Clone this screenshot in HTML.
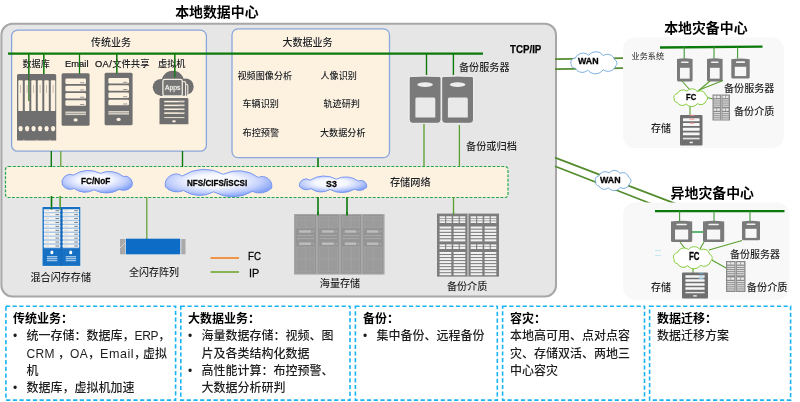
<!DOCTYPE html>
<html lang="zh-CN">
<head>
<meta charset="utf-8">
<title>数据中心存储解决方案架构</title>
<style>
html,body{margin:0;padding:0;background:#fff;overflow:hidden;}
#stage{will-change:transform;position:relative;width:800px;height:402px;overflow:hidden;background:#fff;
font-family:"Liberation Sans","Noto Sans CJK SC",sans-serif;color:#262626;}
#stage svg{position:absolute;left:0;top:0;}
.t{font-weight:500;text-shadow:0 0 1.2px rgba(255,255,255,0.85);position:absolute;white-space:nowrap;line-height:1;margin:0;padding:0;}
.bx{font-weight:500;white-space:nowrap;position:absolute;top:311.1px;font-size:12px;line-height:17.3px;color:#1e1e1e;}
.bx .bt{font-weight:bold;color:#000;}
.bx ul{list-style:none;margin:0;padding:0;}
.bx li{position:relative;padding-left:13.5px;margin:0;}
.bx li:before{content:"•";position:absolute;left:0;top:0;font-size:12px;}
.bx p{margin:0;padding:0;}
.bx .l{letter-spacing:0.3px;}
.bx .l2{font-size:12.6px;letter-spacing:0.5px;}
</style>
</head>
<body>
<div id="stage">
<svg width="800" height="402" viewBox="0 0 800 402">
<rect x="1.4" y="23.8" width="554.6" height="272.6" rx="11" fill="#e6e6e6" stroke="#a8a6a6" stroke-width="2"/>
<rect x="11.6" y="30.1" width="194.8" height="121.1" rx="6" fill="#fdf2e0" stroke="#8aa6dc" stroke-width="1.3"/>
<rect x="232" y="28.9" width="157.5" height="128.7" rx="6" fill="#fdf2e0" stroke="#8aa6dc" stroke-width="1.3"/>
<rect x="5.5" y="166.5" width="502.5" height="31" rx="3" fill="#fdf2e0" stroke="#21a74c" stroke-width="1.2" stroke-dasharray="2.9 1.5"/>
<line x1="555" y1="157.6" x2="680" y2="205.4" stroke="#548c2e" stroke-width="1.7" />
<line x1="555" y1="166.3" x2="655" y2="205.3" stroke="#548c2e" stroke-width="1.7" />
<rect x="623" y="37.6" width="161" height="110.3" rx="12" fill="#f8f8f8"/>
<rect x="623.2" y="202.6" width="166.2" height="97.2" rx="12" fill="#f8f8f8"/>
<line x1="8" y1="53.6" x2="483" y2="53.6" stroke="#0b7a0b" stroke-width="2.4" />
<line x1="28.8" y1="54" x2="28.8" y2="75" stroke="#0b7a0b" stroke-width="1.2" />
<line x1="43.8" y1="54" x2="43.8" y2="75" stroke="#0b7a0b" stroke-width="1.2" />
<line x1="79.5" y1="54" x2="79.5" y2="74" stroke="#0b7a0b" stroke-width="1.2" />
<line x1="116.8" y1="54" x2="116.8" y2="74" stroke="#0b7a0b" stroke-width="1.2" />
<line x1="426.5" y1="54" x2="426.5" y2="75" stroke="#0b7a0b" stroke-width="1.4" />
<line x1="453.4" y1="54" x2="453.4" y2="75" stroke="#0b7a0b" stroke-width="1.4" />
<line x1="51.3" y1="151" x2="51.3" y2="167" stroke="#0b7a0b" stroke-width="1.4" />
<line x1="60.8" y1="151" x2="60.8" y2="167" stroke="#5a9e2f" stroke-width="1.2" />
<line x1="182.5" y1="151" x2="182.5" y2="167" stroke="#0b7a0b" stroke-width="1.4" />
<line x1="318" y1="158" x2="318" y2="167" stroke="#0b7a0b" stroke-width="1.6" />
<line x1="424" y1="124" x2="424" y2="166.5" stroke="#5a9e2f" stroke-width="1.3" />
<line x1="459.4" y1="125" x2="459.4" y2="166.5" stroke="#5a9e2f" stroke-width="1.3" />
<line x1="51.5" y1="196" x2="51.5" y2="208" stroke="#0b7a0b" stroke-width="1.4" />
<line x1="60.2" y1="196" x2="60.2" y2="208" stroke="#5a9e2f" stroke-width="1.2" />
<line x1="146.8" y1="197" x2="146.8" y2="239" stroke="#5a9e2f" stroke-width="1.2" />
<line x1="318" y1="197" x2="318" y2="215.2" stroke="#0b7a0b" stroke-width="1.6" />
<line x1="347" y1="197" x2="347" y2="215.2" stroke="#0b7a0b" stroke-width="1.6" />
<line x1="453.5" y1="197" x2="453.5" y2="214" stroke="#5a9e2f" stroke-width="1.3" />
<line x1="210.5" y1="258" x2="239" y2="258" stroke="#f5862a" stroke-width="1.7" />
<line x1="210.5" y1="272" x2="239" y2="272" stroke="#77aa38" stroke-width="1.7" />
<line x1="555" y1="59.2" x2="623" y2="58.1" stroke="#548c2e" stroke-width="1.8" />
<line x1="555" y1="69.2" x2="623" y2="68.1" stroke="#548c2e" stroke-width="1.8" />
<g transform="translate(17,74)">
<path d="M1.5 0 H37.7 Q39.2 0 39.2 1.5 V66.5 H0 V1.5 Q0 0 1.5 0 Z" fill="#6f6f6f"/>
<rect x="1.3" y="6.3" width="4.5" height="30.8" rx="0.9" fill="#fdf2e0"/>
<rect x="3.2" y="11" width="0.8" height="8" fill="#b9b2a5"/>
<ellipse cx="3.6" cy="54.6" rx="2.1" ry="2.7" fill="#fdf2e0"/>
<rect x="7.8" y="6.3" width="4.5" height="30.8" rx="0.9" fill="#fdf2e0"/>
<rect x="9.7" y="11" width="0.8" height="8" fill="#b9b2a5"/>
<rect x="6.4" y="65.7" width="0.9" height="0.9" fill="#fdf2e0"/>
<ellipse cx="10.1" cy="54.6" rx="2.1" ry="2.7" fill="#fdf2e0"/>
<rect x="14.3" y="6.3" width="4.5" height="30.8" rx="0.9" fill="#fdf2e0"/>
<rect x="16.2" y="11" width="0.8" height="8" fill="#b9b2a5"/>
<ellipse cx="16.6" cy="54.6" rx="2.1" ry="2.7" fill="#fdf2e0"/>
<rect x="20.8" y="6.3" width="4.5" height="30.8" rx="0.9" fill="#fdf2e0"/>
<rect x="22.7" y="11" width="0.8" height="8" fill="#b9b2a5"/>
<rect x="19.4" y="65.7" width="0.9" height="0.9" fill="#fdf2e0"/>
<ellipse cx="23.1" cy="54.6" rx="2.1" ry="2.7" fill="#fdf2e0"/>
<rect x="27.3" y="6.3" width="4.5" height="30.8" rx="0.9" fill="#fdf2e0"/>
<rect x="29.2" y="11" width="0.8" height="8" fill="#b9b2a5"/>
<ellipse cx="29.6" cy="54.6" rx="2.1" ry="2.7" fill="#fdf2e0"/>
<rect x="33.8" y="6.3" width="4.5" height="30.8" rx="0.9" fill="#fdf2e0"/>
<rect x="35.7" y="11" width="0.8" height="8" fill="#b9b2a5"/>
<rect x="32.4" y="65.7" width="0.9" height="0.9" fill="#fdf2e0"/>
<ellipse cx="36.1" cy="54.6" rx="2.1" ry="2.7" fill="#fdf2e0"/>
</g>
<line x1="28.8" y1="74" x2="28.8" y2="101" stroke="#1d6b1d" stroke-width="1.0" />
<g transform="translate(61.6,73.3)">
<rect x="0" y="0" width="28" height="52.5" rx="1.5" fill="#6f6f6f"/>
<rect x="3.8" y="5.2" width="20.6" height="5.5" rx="1.3" fill="#fdf2e0"/>
<rect x="18.5" y="9.0" width="4.2" height="0.9" fill="#8a8a8a"/>
<rect x="3.8" y="12.45" width="20.6" height="5.5" rx="1.3" fill="#fdf2e0"/>
<rect x="18.5" y="16.25" width="4.2" height="0.9" fill="#8a8a8a"/>
<rect x="3.8" y="19.7" width="20.6" height="5.5" rx="1.3" fill="#fdf2e0"/>
<rect x="18.5" y="23.5" width="4.2" height="0.9" fill="#8a8a8a"/>
<rect x="3.8" y="26.95" width="20.6" height="5.5" rx="1.3" fill="#fdf2e0"/>
<rect x="18.5" y="30.75" width="4.2" height="0.9" fill="#8a8a8a"/>
<rect x="3.8" y="38.2" width="20.6" height="3.6" fill="#d6d0c6"/>
<rect x="3.8" y="39.7" width="20.6" height="0.6" fill="#8d8a85"/>
<ellipse cx="14.0" cy="46.6" rx="2.1" ry="1.7" fill="#fdf2e0"/>
</g>
<g transform="translate(104.6,72.8)">
<rect x="0" y="0" width="28" height="52.5" rx="1.5" fill="#6f6f6f"/>
<rect x="3.8" y="5.2" width="20.6" height="5.5" rx="1.3" fill="#fdf2e0"/>
<rect x="18.5" y="9.0" width="4.2" height="0.9" fill="#8a8a8a"/>
<rect x="3.8" y="12.45" width="20.6" height="5.5" rx="1.3" fill="#fdf2e0"/>
<rect x="18.5" y="16.25" width="4.2" height="0.9" fill="#8a8a8a"/>
<rect x="3.8" y="19.7" width="20.6" height="5.5" rx="1.3" fill="#fdf2e0"/>
<rect x="18.5" y="23.5" width="4.2" height="0.9" fill="#8a8a8a"/>
<rect x="3.8" y="26.95" width="20.6" height="5.5" rx="1.3" fill="#fdf2e0"/>
<rect x="18.5" y="30.75" width="4.2" height="0.9" fill="#8a8a8a"/>
<rect x="3.8" y="38.2" width="20.6" height="3.6" fill="#d6d0c6"/>
<rect x="3.8" y="39.7" width="20.6" height="0.6" fill="#8d8a85"/>
<ellipse cx="14.0" cy="46.6" rx="2.1" ry="1.7" fill="#fdf2e0"/>
</g>
<g transform="translate(409.2,76)">
<path d="M0 2 Q0 0.6 1.6 0.5 Q15.9 -0.3 30.2 0.5 Q31.8 0.6 31.8 2 V43.8 Q31.8 47.3 28.3 47.3 H3.5 Q0 47.3 0 43.8 Z" fill="#7a7a7a" stroke="#f6f6f6" stroke-width="0.9"/>
<ellipse cx="15.9" cy="8.6" rx="7.8" ry="2.3" fill="#ededed"/>
<path d="M6.2 23 Q6.2 21.5 7.7 21.5 H24.6 Q26.1 21.5 26.1 23 V41.5 H6.2 Z" fill="#e9e9e9"/>
</g>
<g transform="translate(441.7,76)">
<path d="M0 2 Q0 0.6 1.6 0.5 Q15.9 -0.3 30.2 0.5 Q31.8 0.6 31.8 2 V43.8 Q31.8 47.3 28.3 47.3 H3.5 Q0 47.3 0 43.8 Z" fill="#7a7a7a" stroke="#f6f6f6" stroke-width="0.9"/>
<ellipse cx="15.9" cy="8.6" rx="7.8" ry="2.3" fill="#ededed"/>
<path d="M6.2 23 Q6.2 21.5 7.7 21.5 H24.6 Q26.1 21.5 26.1 23 V41.5 H6.2 Z" fill="#e9e9e9"/>
</g>
<g fill="#6f6f6f">
<ellipse cx="161.3" cy="87.3" rx="8.6" ry="8.4"/>
<ellipse cx="172.8" cy="81.4" rx="11.2" ry="10.6"/>
<ellipse cx="185.6" cy="86.6" rx="8.1" ry="8.2"/>
<rect x="160" y="86" width="27" height="9.7"/>
<path d="M159.5 99.4 Q159.5 98 160.9 98 H187 Q188.4 98 188.4 99.4 V124.2 H159.5 Z"/>
</g>
<g fill="none" stroke="#f1ebe1" stroke-width="1.1">
<path d="M183.2 81.6 H184.4 Q185.6 81.6 185.6 82.8 V97.4"/>
<path d="M186 84.2 H186.6 Q187.8 84.2 187.8 85.4 V97.4"/>
<rect x="162.9" y="79.4" width="19.4" height="16.6" rx="1.8" fill="#757575" stroke-width="1.3"/>
</g>
<rect x="164.2" y="100.80" width="20.2" height="1.5" fill="#fdf2e0"/>
<rect x="178.5" y="100.60" width="5.9" height="0.9" fill="#b5b0a8"/>
<rect x="164.2" y="104.65" width="20.2" height="1.5" fill="#fdf2e0"/>
<rect x="178.5" y="104.45" width="5.9" height="0.9" fill="#b5b0a8"/>
<rect x="164.2" y="108.50" width="20.2" height="1.5" fill="#fdf2e0"/>
<rect x="178.5" y="108.30" width="5.9" height="0.9" fill="#b5b0a8"/>
<rect x="164.2" y="112.35" width="20.2" height="1.5" fill="#fdf2e0"/>
<rect x="178.5" y="112.15" width="5.9" height="0.9" fill="#b5b0a8"/>
<rect x="164.2" y="117" width="20.2" height="1.1" fill="#fdf2e0" opacity="0.8"/>
<ellipse cx="174" cy="121.3" rx="1.9" ry="1.1" fill="#fdf2e0"/>
<line x1="174.8" y1="54" x2="174.8" y2="77.6" stroke="#0b7a0b" stroke-width="1.2" />
<g transform="translate(42.5,207)">
<rect x="-0.4" y="-0.4" width="38.6" height="59.7" fill="#f3f3f3"/>
<rect x="0" y="0" width="37.8" height="58.9" fill="#1670c4"/>
<rect x="1.4" y="2.2" width="16.4" height="39" fill="#a9c9e8"/>
<rect x="1.4" y="2.40" width="16.4" height="2.5" rx="0.6" fill="#f8f4ef"/>
<rect x="13.0" y="3.20" width="3.6" height="1" fill="#6f7f8f"/>
<rect x="3.0" y="3.30" width="3.4" height="0.7" fill="#d8cfc4"/>
<rect x="1.4" y="6.32" width="16.4" height="2.5" rx="0.6" fill="#f8f4ef"/>
<rect x="13.0" y="7.12" width="3.6" height="1" fill="#6f7f8f"/>
<rect x="3.0" y="7.22" width="3.4" height="0.7" fill="#d8cfc4"/>
<rect x="1.4" y="10.24" width="16.4" height="2.5" rx="0.6" fill="#f8f4ef"/>
<rect x="13.0" y="11.04" width="3.6" height="1" fill="#6f7f8f"/>
<rect x="3.0" y="11.14" width="3.4" height="0.7" fill="#d8cfc4"/>
<rect x="1.4" y="14.16" width="16.4" height="2.5" rx="0.6" fill="#f8f4ef"/>
<rect x="13.0" y="14.96" width="3.6" height="1" fill="#6f7f8f"/>
<rect x="3.0" y="15.06" width="3.4" height="0.7" fill="#d8cfc4"/>
<rect x="1.4" y="18.08" width="16.4" height="2.5" rx="0.6" fill="#f8f4ef"/>
<rect x="13.0" y="18.88" width="3.6" height="1" fill="#6f7f8f"/>
<rect x="3.0" y="18.98" width="3.4" height="0.7" fill="#d8cfc4"/>
<rect x="1.4" y="22.00" width="16.4" height="2.5" rx="0.6" fill="#f8f4ef"/>
<rect x="13.0" y="22.80" width="3.6" height="1" fill="#6f7f8f"/>
<rect x="3.0" y="22.90" width="3.4" height="0.7" fill="#d8cfc4"/>
<rect x="1.4" y="25.92" width="16.4" height="2.5" rx="0.6" fill="#f8f4ef"/>
<rect x="13.0" y="26.72" width="3.6" height="1" fill="#6f7f8f"/>
<rect x="3.0" y="26.82" width="3.4" height="0.7" fill="#d8cfc4"/>
<rect x="1.4" y="29.84" width="16.4" height="2.5" rx="0.6" fill="#f8f4ef"/>
<rect x="13.0" y="30.64" width="3.6" height="1" fill="#6f7f8f"/>
<rect x="3.0" y="30.74" width="3.4" height="0.7" fill="#d8cfc4"/>
<rect x="1.4" y="33.76" width="16.4" height="2.5" rx="0.6" fill="#f8f4ef"/>
<rect x="13.0" y="34.56" width="3.6" height="1" fill="#6f7f8f"/>
<rect x="3.0" y="34.66" width="3.4" height="0.7" fill="#d8cfc4"/>
<rect x="1.4" y="37.68" width="16.4" height="2.5" rx="0.6" fill="#f8f4ef"/>
<rect x="13.0" y="38.48" width="3.6" height="1" fill="#6f7f8f"/>
<rect x="3.0" y="38.58" width="3.4" height="0.7" fill="#d8cfc4"/>
<ellipse cx="9.4" cy="45.4" rx="1.5" ry="1.9" fill="#fff"/>
<rect x="4.4" y="49.00" width="10.4" height="1.35" fill="#9fc5e8"/>
<rect x="4.4" y="50.95" width="10.4" height="1.35" fill="#9fc5e8"/>
<rect x="4.4" y="52.90" width="10.4" height="1.35" fill="#9fc5e8"/>
<rect x="20.2" y="2.2" width="16.4" height="39" fill="#a9c9e8"/>
<rect x="20.2" y="2.40" width="16.4" height="2.5" rx="0.6" fill="#f8f4ef"/>
<rect x="31.799999999999997" y="3.20" width="3.6" height="1" fill="#6f7f8f"/>
<rect x="21.8" y="3.30" width="3.4" height="0.7" fill="#d8cfc4"/>
<rect x="20.2" y="6.32" width="16.4" height="2.5" rx="0.6" fill="#f8f4ef"/>
<rect x="31.799999999999997" y="7.12" width="3.6" height="1" fill="#6f7f8f"/>
<rect x="21.8" y="7.22" width="3.4" height="0.7" fill="#d8cfc4"/>
<rect x="20.2" y="10.24" width="16.4" height="2.5" rx="0.6" fill="#f8f4ef"/>
<rect x="31.799999999999997" y="11.04" width="3.6" height="1" fill="#6f7f8f"/>
<rect x="21.8" y="11.14" width="3.4" height="0.7" fill="#d8cfc4"/>
<rect x="20.2" y="14.16" width="16.4" height="2.5" rx="0.6" fill="#f8f4ef"/>
<rect x="31.799999999999997" y="14.96" width="3.6" height="1" fill="#6f7f8f"/>
<rect x="21.8" y="15.06" width="3.4" height="0.7" fill="#d8cfc4"/>
<rect x="20.2" y="18.08" width="16.4" height="2.5" rx="0.6" fill="#f8f4ef"/>
<rect x="31.799999999999997" y="18.88" width="3.6" height="1" fill="#6f7f8f"/>
<rect x="21.8" y="18.98" width="3.4" height="0.7" fill="#d8cfc4"/>
<rect x="20.2" y="22.00" width="16.4" height="2.5" rx="0.6" fill="#f8f4ef"/>
<rect x="31.799999999999997" y="22.80" width="3.6" height="1" fill="#6f7f8f"/>
<rect x="21.8" y="22.90" width="3.4" height="0.7" fill="#d8cfc4"/>
<rect x="20.2" y="25.92" width="16.4" height="2.5" rx="0.6" fill="#f8f4ef"/>
<rect x="31.799999999999997" y="26.72" width="3.6" height="1" fill="#6f7f8f"/>
<rect x="21.8" y="26.82" width="3.4" height="0.7" fill="#d8cfc4"/>
<rect x="20.2" y="29.84" width="16.4" height="2.5" rx="0.6" fill="#f8f4ef"/>
<rect x="31.799999999999997" y="30.64" width="3.6" height="1" fill="#6f7f8f"/>
<rect x="21.8" y="30.74" width="3.4" height="0.7" fill="#d8cfc4"/>
<rect x="20.2" y="33.76" width="16.4" height="2.5" rx="0.6" fill="#f8f4ef"/>
<rect x="31.799999999999997" y="34.56" width="3.6" height="1" fill="#6f7f8f"/>
<rect x="21.8" y="34.66" width="3.4" height="0.7" fill="#d8cfc4"/>
<rect x="20.2" y="37.68" width="16.4" height="2.5" rx="0.6" fill="#f8f4ef"/>
<rect x="31.799999999999997" y="38.48" width="3.6" height="1" fill="#6f7f8f"/>
<rect x="21.8" y="38.58" width="3.4" height="0.7" fill="#d8cfc4"/>
<ellipse cx="28.2" cy="45.4" rx="1.5" ry="1.9" fill="#fff"/>
<rect x="23.2" y="49.00" width="10.4" height="1.35" fill="#9fc5e8"/>
<rect x="23.2" y="50.95" width="10.4" height="1.35" fill="#9fc5e8"/>
<rect x="23.2" y="52.90" width="10.4" height="1.35" fill="#9fc5e8"/>
<rect x="18.3" y="0" width="1.1" height="58.9" fill="#1467b8"/>
</g>
<line x1="51.5" y1="196" x2="51.5" y2="209.5" stroke="#0b7a0b" stroke-width="1.3" />
<line x1="60.2" y1="196" x2="60.2" y2="209.5" stroke="#5a9e2f" stroke-width="1.2" />
<rect x="120" y="239" width="5" height="15.3" fill="#a9a9a9"/>
<path d="M120 248 L125 243" stroke="#e0e0e0" stroke-width="0.8"/>
<rect x="181.3" y="239" width="4.2" height="15.3" fill="#a9a9a9"/>
<rect x="125.8" y="238.7" width="54.4" height="15.6" fill="#0d6cc5"/>
<g transform="translate(294,214)">
<rect x="0" y="0" width="90.5" height="60.5" fill="#a2a2a2"/>
<rect x="1.0" y="0.6" width="21.4" height="59.3" fill="#949494" stroke="#adadad" stroke-width="0.7"/>
<rect x="2.6" y="2.4" width="18" height="11" fill="#9b9b9b" stroke="#a9a9a9" stroke-width="0.5"/>
<line x1="11.6" y1="2.4" x2="11.6" y2="13.4" stroke="#a9a9a9" stroke-width="0.5"/>
<line x1="2.6" y1="6" x2="20.6" y2="6" stroke="#a9a9a9" stroke-width="0.5"/>
<rect x="5.1" y="16.3" width="12" height="2.4" fill="#bdbdbd"/>
<circle cx="19.400000000000002" cy="17.5" r="1" fill="#a9a9a9"/>
<line x1="3.1" y1="21.6" x2="20.1" y2="21.6" stroke="#b0b0b0" stroke-width="0.8"/>
<line x1="3.1" y1="24.6" x2="20.1" y2="24.6" stroke="#b0b0b0" stroke-width="0.8"/>
<rect x="5.1" y="28.5" width="12" height="2.4" fill="#bdbdbd"/>
<circle cx="19.400000000000002" cy="29.7" r="1" fill="#a9a9a9"/>
<rect x="2.6" y="33" width="18" height="25" fill="#9b9b9b" stroke="#a9a9a9" stroke-width="0.5"/>
<line x1="11.6" y1="33" x2="11.6" y2="58" stroke="#a9a9a9" stroke-width="0.5"/>
<line x1="2.6" y1="45" x2="20.6" y2="45" stroke="#a9a9a9" stroke-width="0.5"/>
<rect x="23.799999999999997" y="0.6" width="21.4" height="59.3" fill="#949494" stroke="#adadad" stroke-width="0.7"/>
<rect x="25.4" y="2.4" width="18" height="11" fill="#9b9b9b" stroke="#a9a9a9" stroke-width="0.5"/>
<line x1="34.4" y1="2.4" x2="34.4" y2="13.4" stroke="#a9a9a9" stroke-width="0.5"/>
<line x1="25.4" y1="6" x2="43.4" y2="6" stroke="#a9a9a9" stroke-width="0.5"/>
<rect x="27.9" y="16.3" width="12" height="2.4" fill="#bdbdbd"/>
<circle cx="42.199999999999996" cy="17.5" r="1" fill="#a9a9a9"/>
<line x1="25.9" y1="21.6" x2="42.9" y2="21.6" stroke="#b0b0b0" stroke-width="0.8"/>
<line x1="25.9" y1="24.6" x2="42.9" y2="24.6" stroke="#b0b0b0" stroke-width="0.8"/>
<rect x="27.9" y="28.5" width="12" height="2.4" fill="#bdbdbd"/>
<circle cx="42.199999999999996" cy="29.7" r="1" fill="#a9a9a9"/>
<rect x="25.4" y="33" width="18" height="25" fill="#9b9b9b" stroke="#a9a9a9" stroke-width="0.5"/>
<line x1="34.4" y1="33" x2="34.4" y2="58" stroke="#a9a9a9" stroke-width="0.5"/>
<line x1="25.4" y1="45" x2="43.4" y2="45" stroke="#a9a9a9" stroke-width="0.5"/>
<rect x="46.699999999999996" y="0.6" width="20.9" height="59.3" fill="#949494" stroke="#adadad" stroke-width="0.7"/>
<rect x="48.3" y="2.4" width="17.5" height="11" fill="#9b9b9b" stroke="#a9a9a9" stroke-width="0.5"/>
<line x1="57.05" y1="2.4" x2="57.05" y2="13.4" stroke="#a9a9a9" stroke-width="0.5"/>
<line x1="48.3" y1="6" x2="65.8" y2="6" stroke="#a9a9a9" stroke-width="0.5"/>
<rect x="50.8" y="16.3" width="11.5" height="2.4" fill="#bdbdbd"/>
<circle cx="64.6" cy="17.5" r="1" fill="#a9a9a9"/>
<line x1="48.8" y1="21.6" x2="65.3" y2="21.6" stroke="#b0b0b0" stroke-width="0.8"/>
<line x1="48.8" y1="24.6" x2="65.3" y2="24.6" stroke="#b0b0b0" stroke-width="0.8"/>
<rect x="50.8" y="28.5" width="11.5" height="2.4" fill="#bdbdbd"/>
<circle cx="64.6" cy="29.7" r="1" fill="#a9a9a9"/>
<rect x="48.3" y="33" width="17.5" height="25" fill="#9b9b9b" stroke="#a9a9a9" stroke-width="0.5"/>
<line x1="57.05" y1="33" x2="57.05" y2="58" stroke="#a9a9a9" stroke-width="0.5"/>
<line x1="48.3" y1="45" x2="65.8" y2="45" stroke="#a9a9a9" stroke-width="0.5"/>
<rect x="68.80000000000001" y="0.6" width="20.9" height="59.3" fill="#949494" stroke="#adadad" stroke-width="0.7"/>
<rect x="70.4" y="2.4" width="17.5" height="11" fill="#9b9b9b" stroke="#a9a9a9" stroke-width="0.5"/>
<line x1="79.15" y1="2.4" x2="79.15" y2="13.4" stroke="#a9a9a9" stroke-width="0.5"/>
<line x1="70.4" y1="6" x2="87.9" y2="6" stroke="#a9a9a9" stroke-width="0.5"/>
<rect x="72.9" y="16.3" width="11.5" height="2.4" fill="#bdbdbd"/>
<circle cx="86.7" cy="17.5" r="1" fill="#a9a9a9"/>
<line x1="70.9" y1="21.6" x2="87.4" y2="21.6" stroke="#b0b0b0" stroke-width="0.8"/>
<line x1="70.9" y1="24.6" x2="87.4" y2="24.6" stroke="#b0b0b0" stroke-width="0.8"/>
<rect x="72.9" y="28.5" width="11.5" height="2.4" fill="#bdbdbd"/>
<circle cx="86.7" cy="29.7" r="1" fill="#a9a9a9"/>
<rect x="70.4" y="33" width="17.5" height="25" fill="#9b9b9b" stroke="#a9a9a9" stroke-width="0.5"/>
<line x1="79.15" y1="33" x2="79.15" y2="58" stroke="#a9a9a9" stroke-width="0.5"/>
<line x1="70.4" y1="45" x2="87.9" y2="45" stroke="#a9a9a9" stroke-width="0.5"/>
</g>
<line x1="318" y1="212" x2="318" y2="215.4" stroke="#0b7a0b" stroke-width="1.6" />
<line x1="347" y1="212" x2="347" y2="215.4" stroke="#0b7a0b" stroke-width="1.6" />
<g transform="translate(437,213.6)">
<rect x="0" y="0" width="62" height="63" fill="#7d7d7d"/>
<rect x="2.60" y="2.70" width="5.5" height="1.8" fill="#f1f1f1"/>
<rect x="9.20" y="2.70" width="5.5" height="1.8" fill="#f1f1f1"/>
<rect x="16.20" y="2.70" width="5.5" height="1.8" fill="#f1f1f1"/>
<rect x="22.80" y="2.70" width="5.5" height="1.8" fill="#f1f1f1"/>
<rect x="2.60" y="5.15" width="5.5" height="1.8" fill="#f1f1f1"/>
<rect x="9.20" y="5.15" width="5.5" height="1.8" fill="#f1f1f1"/>
<rect x="16.20" y="5.15" width="5.5" height="1.8" fill="#f1f1f1"/>
<rect x="22.80" y="5.15" width="5.5" height="1.8" fill="#f1f1f1"/>
<rect x="2.60" y="7.60" width="5.5" height="1.8" fill="#f1f1f1"/>
<rect x="9.20" y="7.60" width="5.5" height="1.8" fill="#f1f1f1"/>
<rect x="16.20" y="7.60" width="5.5" height="1.8" fill="#f1f1f1"/>
<rect x="22.80" y="7.60" width="5.5" height="1.8" fill="#f1f1f1"/>
<rect x="2.6" y="12.90" width="11.7" height="2.1" fill="#f1f1f1"/>
<rect x="16.6" y="12.90" width="11.7" height="2.1" fill="#f1f1f1"/>
<rect x="2.6" y="16.10" width="11.7" height="2.1" fill="#f1f1f1"/>
<rect x="16.6" y="16.10" width="11.7" height="2.1" fill="#f1f1f1"/>
<rect x="2.6" y="19.30" width="11.7" height="2.1" fill="#f1f1f1"/>
<rect x="16.6" y="19.30" width="11.7" height="2.1" fill="#f1f1f1"/>
<rect x="2.6" y="22.50" width="11.7" height="2.1" fill="#f1f1f1"/>
<rect x="16.6" y="22.50" width="11.7" height="2.1" fill="#f1f1f1"/>
<rect x="2.6" y="25.70" width="11.7" height="2.1" fill="#f1f1f1"/>
<rect x="16.6" y="25.70" width="11.7" height="2.1" fill="#f1f1f1"/>
<rect x="2.60" y="30.80" width="5.5" height="2" fill="#f1f1f1"/>
<rect x="9.20" y="30.80" width="5.5" height="2" fill="#f1f1f1"/>
<rect x="16.20" y="30.80" width="5.5" height="2" fill="#f1f1f1"/>
<rect x="22.80" y="30.80" width="5.5" height="2" fill="#f1f1f1"/>
<rect x="2.60" y="33.40" width="5.5" height="2" fill="#f1f1f1"/>
<rect x="9.20" y="33.40" width="5.5" height="2" fill="#f1f1f1"/>
<rect x="16.20" y="33.40" width="5.5" height="2" fill="#f1f1f1"/>
<rect x="22.80" y="33.40" width="5.5" height="2" fill="#f1f1f1"/>
<rect x="2.6" y="38.40" width="11.7" height="2" fill="#f1f1f1"/>
<rect x="16.6" y="38.40" width="11.7" height="2" fill="#f1f1f1"/>
<rect x="2.6" y="41.43" width="11.7" height="2" fill="#f1f1f1"/>
<rect x="16.6" y="41.43" width="11.7" height="2" fill="#f1f1f1"/>
<rect x="2.6" y="44.46" width="11.7" height="2" fill="#f1f1f1"/>
<rect x="16.6" y="44.46" width="11.7" height="2" fill="#f1f1f1"/>
<rect x="2.6" y="47.49" width="11.7" height="2" fill="#f1f1f1"/>
<rect x="16.6" y="47.49" width="11.7" height="2" fill="#f1f1f1"/>
<rect x="2.6" y="50.52" width="11.7" height="2" fill="#f1f1f1"/>
<rect x="16.6" y="50.52" width="11.7" height="2" fill="#f1f1f1"/>
<rect x="2.6" y="53.55" width="11.7" height="2" fill="#f1f1f1"/>
<rect x="16.6" y="53.55" width="11.7" height="2" fill="#f1f1f1"/>
<rect x="2.6" y="56.58" width="11.7" height="2" fill="#f1f1f1"/>
<rect x="16.6" y="56.58" width="11.7" height="2" fill="#f1f1f1"/>
<rect x="2.6" y="59.61" width="11.7" height="2" fill="#f1f1f1"/>
<rect x="16.6" y="59.61" width="11.7" height="2" fill="#f1f1f1"/>
<rect x="33.60" y="2.70" width="5.5" height="1.8" fill="#f1f1f1"/>
<rect x="40.20" y="2.70" width="5.5" height="1.8" fill="#f1f1f1"/>
<rect x="47.20" y="2.70" width="5.5" height="1.8" fill="#f1f1f1"/>
<rect x="53.80" y="2.70" width="5.5" height="1.8" fill="#f1f1f1"/>
<rect x="33.60" y="5.15" width="5.5" height="1.8" fill="#f1f1f1"/>
<rect x="40.20" y="5.15" width="5.5" height="1.8" fill="#f1f1f1"/>
<rect x="47.20" y="5.15" width="5.5" height="1.8" fill="#f1f1f1"/>
<rect x="53.80" y="5.15" width="5.5" height="1.8" fill="#f1f1f1"/>
<rect x="33.60" y="7.60" width="5.5" height="1.8" fill="#f1f1f1"/>
<rect x="40.20" y="7.60" width="5.5" height="1.8" fill="#f1f1f1"/>
<rect x="47.20" y="7.60" width="5.5" height="1.8" fill="#f1f1f1"/>
<rect x="53.80" y="7.60" width="5.5" height="1.8" fill="#f1f1f1"/>
<rect x="33.6" y="12.90" width="11.7" height="2.1" fill="#f1f1f1"/>
<rect x="47.6" y="12.90" width="11.7" height="2.1" fill="#f1f1f1"/>
<rect x="33.6" y="16.10" width="11.7" height="2.1" fill="#f1f1f1"/>
<rect x="47.6" y="16.10" width="11.7" height="2.1" fill="#f1f1f1"/>
<rect x="33.6" y="19.30" width="11.7" height="2.1" fill="#f1f1f1"/>
<rect x="47.6" y="19.30" width="11.7" height="2.1" fill="#f1f1f1"/>
<rect x="33.6" y="22.50" width="11.7" height="2.1" fill="#f1f1f1"/>
<rect x="47.6" y="22.50" width="11.7" height="2.1" fill="#f1f1f1"/>
<rect x="33.6" y="25.70" width="11.7" height="2.1" fill="#f1f1f1"/>
<rect x="47.6" y="25.70" width="11.7" height="2.1" fill="#f1f1f1"/>
<rect x="33.60" y="30.80" width="5.5" height="2" fill="#f1f1f1"/>
<rect x="40.20" y="30.80" width="5.5" height="2" fill="#f1f1f1"/>
<rect x="47.20" y="30.80" width="5.5" height="2" fill="#f1f1f1"/>
<rect x="53.80" y="30.80" width="5.5" height="2" fill="#f1f1f1"/>
<rect x="33.60" y="33.40" width="5.5" height="2" fill="#f1f1f1"/>
<rect x="40.20" y="33.40" width="5.5" height="2" fill="#f1f1f1"/>
<rect x="47.20" y="33.40" width="5.5" height="2" fill="#f1f1f1"/>
<rect x="53.80" y="33.40" width="5.5" height="2" fill="#f1f1f1"/>
<rect x="33.6" y="38.40" width="11.7" height="2" fill="#f1f1f1"/>
<rect x="47.6" y="38.40" width="11.7" height="2" fill="#f1f1f1"/>
<rect x="33.6" y="41.43" width="11.7" height="2" fill="#f1f1f1"/>
<rect x="47.6" y="41.43" width="11.7" height="2" fill="#f1f1f1"/>
<rect x="33.6" y="44.46" width="11.7" height="2" fill="#f1f1f1"/>
<rect x="47.6" y="44.46" width="11.7" height="2" fill="#f1f1f1"/>
<rect x="33.6" y="47.49" width="11.7" height="2" fill="#f1f1f1"/>
<rect x="47.6" y="47.49" width="11.7" height="2" fill="#f1f1f1"/>
<rect x="33.6" y="50.52" width="11.7" height="2" fill="#f1f1f1"/>
<rect x="47.6" y="50.52" width="11.7" height="2" fill="#f1f1f1"/>
<rect x="33.6" y="53.55" width="11.7" height="2" fill="#f1f1f1"/>
<rect x="47.6" y="53.55" width="11.7" height="2" fill="#f1f1f1"/>
<rect x="33.6" y="56.58" width="11.7" height="2" fill="#f1f1f1"/>
<rect x="47.6" y="56.58" width="11.7" height="2" fill="#f1f1f1"/>
<rect x="33.6" y="59.61" width="11.7" height="2" fill="#f1f1f1"/>
<rect x="47.6" y="59.61" width="11.7" height="2" fill="#f1f1f1"/>
<rect x="30.2" y="0" width="1.6" height="63" fill="#b9b9b9"/>
</g>
<line x1="453.5" y1="212" x2="453.5" y2="214.6" stroke="#5a9e2f" stroke-width="1.3" />
<defs>
<radialGradient id="cg" cx="47%" cy="42%" r="58%">
<stop offset="0" stop-color="#ffffff"/><stop offset="0.42" stop-color="#f4f6ff"/><stop offset="0.74" stop-color="#c3d0fc"/><stop offset="1" stop-color="#86a4f7"/>
</radialGradient>
</defs>
<path d="M62.49 185.20 A8.08 8.08 0 0 1 73.53 175.10 A25.50 25.50 0 0 1 100.31 173.41 A21.89 21.89 0 0 1 123.16 176.36 A7.45 7.45 0 0 1 131.83 186.46 A11.65 11.65 0 0 1 119.22 189.41 A25.22 25.22 0 0 1 94.01 189.83 A18.75 18.75 0 0 1 74.31 188.57 A10.45 10.45 0 0 1 62.49 185.20 Z" fill="url(#cg)" stroke="#6f90f1" stroke-width="0.9" stroke-linejoin="round"/>
<path d="M165.38 186.89 A10.83 10.83 0 0 1 182.27 176.07 A39.02 39.02 0 0 1 223.31 174.27 A33.38 33.38 0 0 1 258.31 177.43 A9.59 9.59 0 0 1 271.58 188.25 A17.61 17.61 0 0 1 252.27 191.40 A38.62 38.62 0 0 1 213.65 191.85 A28.69 28.69 0 0 1 183.48 190.50 A15.69 15.69 0 0 1 165.38 186.89 Z" fill="url(#cg)" stroke="#6f90f1" stroke-width="0.9" stroke-linejoin="round"/>
<path d="M299.46 186.56 A6.71 6.71 0 0 1 310.16 180.24 A24.70 24.70 0 0 1 336.14 179.19 A21.12 21.12 0 0 1 358.30 181.03 A5.89 5.89 0 0 1 366.71 187.35 A11.13 11.13 0 0 1 354.48 189.19 A24.45 24.45 0 0 1 330.03 189.46 A18.16 18.16 0 0 1 310.93 188.67 A9.91 9.91 0 0 1 299.46 186.56 Z" fill="url(#cg)" stroke="#6f90f1" stroke-width="0.9" stroke-linejoin="round"/>
<path d="M571.22 64.29 A4.28 4.28 0 0 1 575.35 58.17 A8.51 8.51 0 0 1 588.77 55.28 A8.96 8.96 0 0 1 603.22 55.64 A7.46 7.46 0 0 1 614.58 59.61 A3.81 3.81 0 0 1 615.61 66.09 A8.00 8.00 0 0 1 603.22 69.70 A9.60 9.60 0 0 1 587.74 70.06 A7.76 7.76 0 0 1 575.35 68.25 A3.78 3.78 0 0 1 571.22 64.29 Z" fill="#fff" stroke="#5b9bd5" stroke-width="0.8" stroke-linejoin="round"/>
<path d="M595.82 182.03 A4.00 4.00 0 0 1 598.96 175.89 A6.56 6.56 0 0 1 609.14 173.00 A6.80 6.80 0 0 1 620.11 173.36 A5.88 5.88 0 0 1 628.72 177.33 A3.80 3.80 0 0 1 629.51 183.83 A6.24 6.24 0 0 1 620.11 187.44 A7.29 7.29 0 0 1 608.36 187.80 A5.93 5.93 0 0 1 598.96 186.00 A3.34 3.34 0 0 1 595.82 182.03 Z" fill="#fff" stroke="#5b9bd5" stroke-width="0.8" stroke-linejoin="round"/>
<line x1="660" y1="47.5" x2="762.5" y2="46.6" stroke="#0b7a0b" stroke-width="2.4" />
<line x1="684.2" y1="47" x2="684.2" y2="58.5" stroke="#3d9a33" stroke-width="1.1" />
<line x1="714" y1="47" x2="714" y2="58.5" stroke="#3d9a33" stroke-width="1.1" />
<line x1="737.6" y1="47" x2="737.6" y2="58.5" stroke="#3d9a33" stroke-width="1.1" />
<g transform="translate(677,57.9)">
<path d="M0 1 Q7.8 -0.4 15.6 1 V22.1 Q15.6 23.6 14.1 23.6 H1.5 Q0 23.6 0 22.1 Z" fill="#7a7a7a"/>
<rect x="3.9" y="3.54" width="7.8" height="1.6" rx="0.8" fill="#f2f2f2"/>
<rect x="2.964" y="9.912" width="9.672" height="10.856000000000002" fill="#f7f7f7"/>
</g>
<g transform="translate(707,57.9)">
<path d="M0 1 Q7.8 -0.4 15.6 1 V22.1 Q15.6 23.6 14.1 23.6 H1.5 Q0 23.6 0 22.1 Z" fill="#7a7a7a"/>
<rect x="3.9" y="3.54" width="7.8" height="1.6" rx="0.8" fill="#f2f2f2"/>
<rect x="2.964" y="9.912" width="9.672" height="10.856000000000002" fill="#f7f7f7"/>
</g>
<g transform="translate(731.3,58.3)">
<path d="M0 1 Q9.2 -0.4 18.4 1 V18.7 Q18.4 20.2 16.9 20.2 H1.5 Q0 20.2 0 18.7 Z" fill="#7a7a7a"/>
<rect x="4.6" y="3.03" width="9.2" height="1.6" rx="0.8" fill="#f2f2f2"/>
<rect x="3.4959999999999996" y="8.484" width="11.408" height="9.292" fill="#f7f7f7"/>
</g>
<line x1="682" y1="81" x2="690" y2="90" stroke="#5a9e2f" stroke-width="1.1" />
<line x1="710" y1="81" x2="697" y2="92" stroke="#5a9e2f" stroke-width="1.1" />
<line x1="723" y1="80.5" x2="699" y2="90" stroke="#5a9e2f" stroke-width="1.1" />
<line x1="690" y1="104" x2="690" y2="116" stroke="#5a9e2f" stroke-width="1.1" />
<line x1="705" y1="97" x2="713" y2="99" stroke="#5a9e2f" stroke-width="1.1" />
<path d="M674.26 98.99 A3.49 3.49 0 0 1 677.25 93.76 A6.21 6.21 0 0 1 686.95 91.29 A6.48 6.48 0 0 1 697.40 91.60 A5.51 5.51 0 0 1 705.62 94.99 A3.24 3.24 0 0 1 706.36 100.53 A5.87 5.87 0 0 1 697.40 103.61 A6.94 6.94 0 0 1 686.21 103.92 A5.64 5.64 0 0 1 677.25 102.38 A2.98 2.98 0 0 1 674.26 98.99 Z" fill="#fff" stroke="#84cc3c" stroke-width="1.0" stroke-linejoin="round"/>
<g transform="translate(712.5,94.5)">
<rect x="0" y="0" width="17.5" height="26" fill="#8a8a8a"/>
<rect x="1.20" y="1.20" width="2.77" height="2.4" fill="#e8e8e8"/>
<rect x="4.58" y="1.20" width="2.77" height="2.4" fill="#e8e8e8"/>
<rect x="1.20" y="4.80" width="6.35" height="1.2" fill="#dcdcdc"/>
<rect x="1.20" y="6.90" width="6.35" height="1.2" fill="#dcdcdc"/>
<rect x="1.20" y="9.00" width="6.35" height="1.2" fill="#dcdcdc"/>
<rect x="1.20" y="11.10" width="6.35" height="1.2" fill="#dcdcdc"/>
<rect x="1.20" y="13.90" width="2.77" height="2.4" fill="#e8e8e8"/>
<rect x="4.58" y="13.90" width="2.77" height="2.4" fill="#e8e8e8"/>
<rect x="1.20" y="17.50" width="6.35" height="1.2" fill="#dcdcdc"/>
<rect x="1.20" y="19.60" width="6.35" height="1.2" fill="#dcdcdc"/>
<rect x="1.20" y="21.70" width="6.35" height="1.2" fill="#dcdcdc"/>
<rect x="1.20" y="23.80" width="6.35" height="1.2" fill="#dcdcdc"/>
<rect x="9.95" y="1.20" width="2.77" height="2.4" fill="#e8e8e8"/>
<rect x="13.32" y="1.20" width="2.77" height="2.4" fill="#e8e8e8"/>
<rect x="9.95" y="4.80" width="6.35" height="1.2" fill="#dcdcdc"/>
<rect x="9.95" y="6.90" width="6.35" height="1.2" fill="#dcdcdc"/>
<rect x="9.95" y="9.00" width="6.35" height="1.2" fill="#dcdcdc"/>
<rect x="9.95" y="11.10" width="6.35" height="1.2" fill="#dcdcdc"/>
<rect x="9.95" y="13.90" width="2.77" height="2.4" fill="#e8e8e8"/>
<rect x="13.32" y="13.90" width="2.77" height="2.4" fill="#e8e8e8"/>
<rect x="9.95" y="17.50" width="6.35" height="1.2" fill="#dcdcdc"/>
<rect x="9.95" y="19.60" width="6.35" height="1.2" fill="#dcdcdc"/>
<rect x="9.95" y="21.70" width="6.35" height="1.2" fill="#dcdcdc"/>
<rect x="9.95" y="23.80" width="6.35" height="1.2" fill="#dcdcdc"/>
<rect x="8.35" y="0" width="0.8" height="26" fill="#c8c8c8"/>
</g>
<g transform="translate(680,115)">
<rect x="0" y="0" width="22.5" height="30.5" rx="1" fill="#6f6f6f"/>
<rect x="2.93" y="3.20" width="16.65" height="2.99" rx="0.5" fill="#f6f6f6"/>
<rect x="2.93" y="7.93" width="16.65" height="2.99" rx="0.5" fill="#f6f6f6"/>
<rect x="2.93" y="12.66" width="16.65" height="2.99" rx="0.5" fill="#f6f6f6"/>
<rect x="2.93" y="17.38" width="16.65" height="2.99" rx="0.5" fill="#f6f6f6"/>
<rect x="2.93" y="22.72" width="16.65" height="1.68" fill="#e6e6e6"/>
<rect x="9.68" y="26.69" width="3.15" height="1.53" fill="#f4f4f4"/>
</g>
<rect x="689.5" y="114.8" width="5" height="1.1" fill="#f08a8a" opacity="0.8"/>
<rect x="689.5" y="118.6" width="5" height="1.1" fill="#f08a8a" opacity="0.8"/>
<rect x="689.5" y="122.6" width="5" height="1.1" fill="#f08a8a" opacity="0.8"/>
<line x1="655" y1="211.1" x2="784.5" y2="211.1" stroke="#0b7a0b" stroke-width="2.4" />
<line x1="679.6" y1="211" x2="679.6" y2="221" stroke="#3d9a33" stroke-width="1.1" />
<line x1="714" y1="211" x2="714" y2="221" stroke="#3d9a33" stroke-width="1.1" />
<line x1="750" y1="211" x2="750" y2="221" stroke="#3d9a33" stroke-width="1.1" />
<g transform="translate(671,220.5)">
<path d="M0 1 Q10.6 -0.4 21.2 1 V20.1 Q21.2 21.6 19.7 21.6 H1.5 Q0 21.6 0 20.1 Z" fill="#7a7a7a"/>
<rect x="5.3" y="3.24" width="10.6" height="1.6" rx="0.8" fill="#f2f2f2"/>
<rect x="4.028" y="9.072000000000001" width="13.144" height="9.936000000000002" fill="#f7f7f7"/>
</g>
<g transform="translate(703,220.5)">
<path d="M0 1 Q10.6 -0.4 21.2 1 V20.1 Q21.2 21.6 19.7 21.6 H1.5 Q0 21.6 0 20.1 Z" fill="#7a7a7a"/>
<rect x="5.3" y="3.24" width="10.6" height="1.6" rx="0.8" fill="#f2f2f2"/>
<rect x="4.028" y="9.072000000000001" width="13.144" height="9.936000000000002" fill="#f7f7f7"/>
</g>
<g transform="translate(742,220.5)">
<path d="M0 1 Q9.0 -0.4 18 1 V18.3 Q18 19.8 16.5 19.8 H1.5 Q0 19.8 0 18.3 Z" fill="#7a7a7a"/>
<rect x="4.5" y="2.97" width="9.0" height="1.6" rx="0.8" fill="#f2f2f2"/>
<rect x="3.42" y="8.316" width="11.16" height="9.108" fill="#f7f7f7"/>
</g>
<line x1="692" y1="232" x2="703" y2="232" stroke="#1d9a3c" stroke-width="1.4" />
<line x1="680" y1="242" x2="686" y2="250" stroke="#5a9e2f" stroke-width="1.1" />
<line x1="704" y1="242" x2="700" y2="249" stroke="#5a9e2f" stroke-width="1.1" />
<line x1="742" y1="240.5" x2="709" y2="250" stroke="#5a9e2f" stroke-width="1.1" />
<line x1="710" y1="259" x2="727" y2="268.5" stroke="#5a9e2f" stroke-width="1.1" />
<line x1="693" y1="268" x2="693" y2="273" stroke="#5a9e2f" stroke-width="1.1" />
<path d="M674.09 259.37 A4.36 4.36 0 0 1 677.48 252.67 A7.11 7.11 0 0 1 688.51 249.51 A7.37 7.37 0 0 1 700.39 249.91 A6.38 6.38 0 0 1 709.72 254.24 A4.14 4.14 0 0 1 710.57 261.34 A6.77 6.77 0 0 1 700.39 265.28 A7.89 7.89 0 0 1 687.66 265.67 A6.43 6.43 0 0 1 677.48 263.70 A3.63 3.63 0 0 1 674.09 259.37 Z" fill="#fff" stroke="#84cc3c" stroke-width="1.0" stroke-linejoin="round"/>
<g transform="translate(726,261)">
<rect x="0" y="0" width="19.5" height="31" fill="#8a8a8a"/>
<rect x="1.20" y="1.20" width="3.27" height="2.4" fill="#e8e8e8"/>
<rect x="5.08" y="1.20" width="3.27" height="2.4" fill="#e8e8e8"/>
<rect x="1.20" y="4.80" width="7.35" height="1.2" fill="#dcdcdc"/>
<rect x="1.20" y="6.90" width="7.35" height="1.2" fill="#dcdcdc"/>
<rect x="1.20" y="9.00" width="7.35" height="1.2" fill="#dcdcdc"/>
<rect x="1.20" y="11.10" width="7.35" height="1.2" fill="#dcdcdc"/>
<rect x="1.20" y="13.20" width="7.35" height="1.2" fill="#dcdcdc"/>
<rect x="1.20" y="16.40" width="3.27" height="2.4" fill="#e8e8e8"/>
<rect x="5.08" y="16.40" width="3.27" height="2.4" fill="#e8e8e8"/>
<rect x="1.20" y="20.00" width="7.35" height="1.2" fill="#dcdcdc"/>
<rect x="1.20" y="22.10" width="7.35" height="1.2" fill="#dcdcdc"/>
<rect x="1.20" y="24.20" width="7.35" height="1.2" fill="#dcdcdc"/>
<rect x="1.20" y="26.30" width="7.35" height="1.2" fill="#dcdcdc"/>
<rect x="1.20" y="28.40" width="7.35" height="1.2" fill="#dcdcdc"/>
<rect x="10.95" y="1.20" width="3.27" height="2.4" fill="#e8e8e8"/>
<rect x="14.82" y="1.20" width="3.27" height="2.4" fill="#e8e8e8"/>
<rect x="10.95" y="4.80" width="7.35" height="1.2" fill="#dcdcdc"/>
<rect x="10.95" y="6.90" width="7.35" height="1.2" fill="#dcdcdc"/>
<rect x="10.95" y="9.00" width="7.35" height="1.2" fill="#dcdcdc"/>
<rect x="10.95" y="11.10" width="7.35" height="1.2" fill="#dcdcdc"/>
<rect x="10.95" y="13.20" width="7.35" height="1.2" fill="#dcdcdc"/>
<rect x="10.95" y="16.40" width="3.27" height="2.4" fill="#e8e8e8"/>
<rect x="14.82" y="16.40" width="3.27" height="2.4" fill="#e8e8e8"/>
<rect x="10.95" y="20.00" width="7.35" height="1.2" fill="#dcdcdc"/>
<rect x="10.95" y="22.10" width="7.35" height="1.2" fill="#dcdcdc"/>
<rect x="10.95" y="24.20" width="7.35" height="1.2" fill="#dcdcdc"/>
<rect x="10.95" y="26.30" width="7.35" height="1.2" fill="#dcdcdc"/>
<rect x="10.95" y="28.40" width="7.35" height="1.2" fill="#dcdcdc"/>
<rect x="9.35" y="0" width="0.8" height="31" fill="#c8c8c8"/>
</g>
<g transform="translate(682,272.5)">
<rect x="0" y="0" width="26" height="26" rx="1" fill="#6f6f6f"/>
<rect x="3.38" y="2.73" width="19.24" height="2.55" rx="0.5" fill="#f6f6f6"/>
<rect x="3.38" y="6.76" width="19.24" height="2.55" rx="0.5" fill="#f6f6f6"/>
<rect x="3.38" y="10.79" width="19.24" height="2.55" rx="0.5" fill="#f6f6f6"/>
<rect x="3.38" y="14.82" width="19.24" height="2.55" rx="0.5" fill="#f6f6f6"/>
<rect x="3.38" y="19.37" width="19.24" height="1.43" fill="#e6e6e6"/>
<rect x="11.18" y="22.75" width="3.64" height="1.30" fill="#f4f4f4"/>
</g>
<rect x="655" y="250" width="6" height="0.9" fill="#bfe3f2"/>
<rect x="655" y="255" width="6" height="0.9" fill="#bfe3f2"/>
<rect x="699" y="272.5" width="4.5" height="0.9" fill="#8fc6ea"/>
<rect x="699" y="275.5" width="4.5" height="0.9" fill="#8fc6ea"/>
<rect x="699" y="278" width="4.5" height="0.9" fill="#8fc6ea"/>
<rect x="5.9" y="306.3" width="169.7" height="93.8" fill="#fff" stroke="#1ab3f2" stroke-width="1.6" stroke-dasharray="4.2 2.5"/>
<rect x="180.8" y="306.3" width="169.2" height="93.8" fill="#fff" stroke="#1ab3f2" stroke-width="1.6" stroke-dasharray="4.2 2.5"/>
<rect x="355.4" y="306.3" width="141.9" height="93.8" fill="#fff" stroke="#1ab3f2" stroke-width="1.6" stroke-dasharray="4.2 2.5"/>
<rect x="502.6" y="306.3" width="141.9" height="93.8" fill="#fff" stroke="#1ab3f2" stroke-width="1.6" stroke-dasharray="4.2 2.5"/>
<rect x="649.6" y="306.3" width="141.0" height="93.8" fill="#fff" stroke="#1ab3f2" stroke-width="1.6" stroke-dasharray="4.2 2.5"/>
</svg>
<div class="t" style="left:175.2px;top:5.8px;font-size:13.9px;font-weight:bold;color:#000;">本地数据中心</div>
<div class="t" style="left:664.2px;top:21.6px;font-size:13.9px;font-weight:bold;color:#000;">本地灾备中心</div>
<div class="t" style="left:670.6px;top:187.1px;font-size:13.9px;font-weight:bold;color:#000;">异地灾备中心</div>
<div class="t" style="left:91px;top:38.3px;font-size:10px;color:#1e1e1e;">传统业务</div>
<div class="t" style="left:282.5px;top:38.3px;font-size:10px;color:#1e1e1e;">大数据业务</div>
<div class="t" style="left:22.5px;top:59.9px;font-size:9.1px;color:#1e1e1e;">数据库</div>
<div class="t" style="left:65.2px;top:58.5px;font-size:9.7px;color:#111;-webkit-text-stroke:0.2px #111;transform:scaleX(0.97);transform-origin:0 50%;">Email</div>
<div class="t" style="left:95px;top:59.6px;font-size:9.35px;color:#1e1e1e;"><span style="letter-spacing:0.35px;-webkit-text-stroke:0.25px #111">OA/</span>文件共享</div>
<div class="t" style="left:158px;top:59.8px;font-size:9.2px;color:#1e1e1e;">虚拟机</div>
<div class="t" style="left:237.5px;top:71.6px;font-size:9.1px;color:#1e1e1e;">视频图像分析</div>
<div class="t" style="left:320.5px;top:71.6px;font-size:9.1px;color:#1e1e1e;">人像识别</div>
<div class="t" style="left:242.5px;top:100px;font-size:9.1px;color:#1e1e1e;">车辆识别</div>
<div class="t" style="left:323.5px;top:100px;font-size:9.1px;color:#1e1e1e;">轨迹研判</div>
<div class="t" style="left:242.5px;top:128.8px;font-size:9.2px;color:#1e1e1e;">布控预警</div>
<div class="t" style="left:320px;top:128.8px;font-size:9.1px;color:#1e1e1e;">大数据分析</div>
<div class="t" style="left:510px;top:44.4px;font-size:10.8px;font-weight:bold;color:#000;-webkit-text-stroke:0.25px #000;transform:scaleX(0.9);transform-origin:0 50%;">TCP/IP</div>
<div class="t" style="left:459px;top:63.2px;font-size:10.15px;color:#1e1e1e;">备份服务器</div>
<div class="t" style="left:466px;top:142.2px;font-size:10.2px;color:#1e1e1e;">备份或归档</div>
<div class="t" style="left:389.9px;top:178.4px;font-size:10.2px;color:#1e1e1e;">存储网络</div>
<div class="t" style="left:81.2px;top:176.3px;font-size:9.5px;font-weight:bold;color:#000;-webkit-text-stroke:0.3px #000;text-shadow:none;transform:scaleX(0.87);transform-origin:0 50%;">FC/NoF</div>
<div class="t" style="left:186.6px;top:177.8px;font-size:9.5px;font-weight:bold;color:#000;-webkit-text-stroke:0.3px #000;text-shadow:none;transform:scaleX(0.85);transform-origin:0 50%;">NFS/CIFS/iSCSI</div>
<div class="t" style="left:326.4px;top:179.2px;font-size:9.5px;font-weight:bold;color:#000;-webkit-text-stroke:0.3px #000;text-shadow:none;transform:scaleX(0.93);transform-origin:0 50%;">S3</div>
<div class="t" style="left:30.5px;top:273px;font-size:10.1px;color:#1e1e1e;">混合闪存存储</div>
<div class="t" style="left:129px;top:267.8px;font-size:10px;color:#1e1e1e;">全闪存阵列</div>
<div class="t" style="left:248.3px;top:251.3px;font-size:11.4px;color:#000;-webkit-text-stroke:0.3px #000;transform:scaleX(0.85);transform-origin:0 50%;">FC</div>
<div class="t" style="left:249.3px;top:268.1px;font-size:11.4px;color:#000;-webkit-text-stroke:0.3px #000;transform:scaleX(0.95);transform-origin:0 50%;">IP</div>
<div class="t" style="left:319.8px;top:278.5px;font-size:10.1px;color:#1e1e1e;">海量存储</div>
<div class="t" style="left:446.9px;top:281.5px;font-size:10.1px;color:#1e1e1e;">备份介质</div>
<div class="t" style="left:578px;top:57.3px;font-size:9px;font-weight:bold;color:#000;-webkit-text-stroke:0.3px #000;text-shadow:none;transform:scaleX(0.98);transform-origin:0 50%;">WAN</div>
<div class="t" style="left:599.6px;top:176.1px;font-size:9px;font-weight:bold;color:#000;-webkit-text-stroke:0.3px #000;text-shadow:none;transform:scaleX(0.98);transform-origin:0 50%;">WAN</div>
<div class="t" style="left:631.6px;top:53px;font-size:8.1px;color:#222;font-weight:400;">业务系统</div>
<div class="t" style="left:724px;top:84.4px;font-size:10.1px;color:#1e1e1e;">备份服务器</div>
<div class="t" style="left:734px;top:107.3px;font-size:10.1px;color:#1e1e1e;">备份介质</div>
<div class="t" style="left:651px;top:124.3px;font-size:10px;color:#1e1e1e;">存储</div>
<div class="t" style="left:686.4px;top:92px;font-size:9.4px;font-weight:bold;color:#000;-webkit-text-stroke:0.3px #000;text-shadow:none;transform:scaleX(0.81);transform-origin:0 50%;">FC</div>
<div class="t" style="left:730px;top:250px;font-size:10px;color:#1e1e1e;">备份服务器</div>
<div class="t" style="left:746.8px;top:283.2px;font-size:10.2px;color:#1e1e1e;">备份介质</div>
<div class="t" style="left:651px;top:283.1px;font-size:10px;color:#1e1e1e;">存储</div>
<div class="t" style="left:688.6px;top:251.8px;font-size:10px;font-weight:bold;color:#000;-webkit-text-stroke:0.3px #000;text-shadow:none;transform:scaleX(0.79);transform-origin:0 50%;">FC</div>
<div class="t" style="left:165.3px;top:84.2px;font-size:7.4px;color:#f6f1e9;transform:scaleX(0.92);transform-origin:0 50%;">Apps</div>
<div class="bx" style="left:13px;width:160px"><div class="bt">传统业务：</div><ul><li>统一存储：数据库，<span style="letter-spacing:-0.3px">ERP</span>，<br><span class="l">CRM</span> ，<span class="l">OA</span>，<span class="l2">Email</span><span style="margin-right:-3px">，</span>虚拟<br>机</li><li>数据库，虚拟机加速</li></ul></div>
<div class="bx" style="left:188px;width:160px"><div class="bt">大数据业务：</div><ul><li>海量数据存储：视频、图<br>片及各类结构化数据</li><li>高性能计算：布控预警、<br>大数据分析研判</li></ul></div>
<div class="bx" style="left:363px;width:132px"><div class="bt">备份：</div><ul><li>集中备份、远程备份</li></ul></div>
<div class="bx" style="left:510px;width:132px"><div class="bt">容灾：</div><p>本地高可用、点对点容<br>灾、存储双活、两地三<br>中心容灾</p></div>
<div class="bx" style="left:657px;width:132px"><div class="bt">数据迁移：</div><p>数据迁移方案</p></div>
<svg width="800" height="402" viewBox="0 0 800 402">
<line x1="28.8" y1="55" x2="28.8" y2="74" stroke="#0b7a0b" stroke-width="1.1" opacity="0.9"/>
<line x1="43.8" y1="55" x2="43.8" y2="74" stroke="#0b7a0b" stroke-width="1.1" opacity="0.9"/>
<line x1="79.5" y1="55" x2="79.5" y2="73.5" stroke="#0b7a0b" stroke-width="1.1" opacity="0.9"/>
<line x1="116.8" y1="55" x2="116.8" y2="73.5" stroke="#0b7a0b" stroke-width="1.1" opacity="0.9"/>
<line x1="174.8" y1="55" x2="174.8" y2="72" stroke="#0b7a0b" stroke-width="1.1" opacity="0.9"/>
</svg>
</div>
</body>
</html>
